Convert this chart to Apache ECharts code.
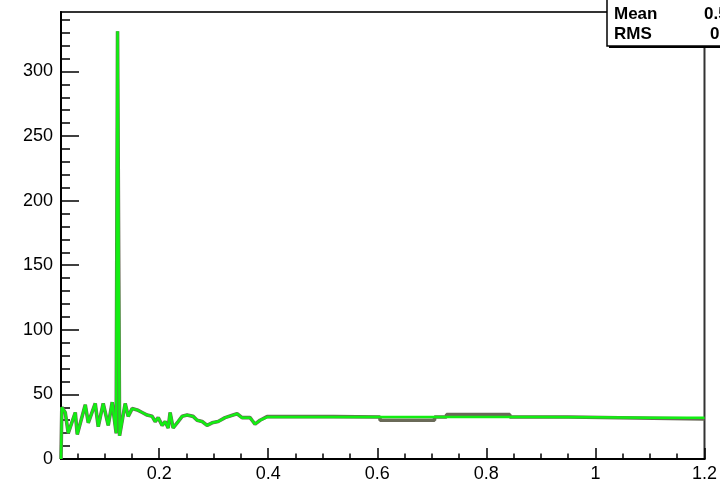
<!DOCTYPE html>
<html>
<head>
<meta charset="utf-8">
<script src="https://cdn.jsdelivr.net/npm/echarts@6/dist/echarts.min.js"></script>
<style>
html,body{margin:0;padding:0;background:#fff;}
#chart{width:720px;height:485px;}
</style>
</head>
<body>
<div id="chart"></div>
<script>
// ---- data ----
const xMin = 0.02, xMax = 1.2;
const yMin = 0, yMax = 346;
const xTickLabels = [0.2, 0.4, 0.6, 0.8, 1, 1.2];
const yTickLabels = [0, 50, 100, 150, 200, 250, 300];

// green histogram (x position, counts)
const greenX = [0.0200, 0.0215, 0.0278, 0.0333, 0.0462, 0.0498, 0.0645, 0.0700, 0.0828, 0.0883,
  0.0974, 0.1066, 0.1139, 0.1212, 0.1236, 0.1237, 0.1273, 0.1274, 0.1304, 0.1377,
  0.1432, 0.1505, 0.1597, 0.1689, 0.1780, 0.1872, 0.1927, 0.1982, 0.2055, 0.2110,
  0.2165, 0.2201, 0.2256, 0.2348, 0.2421, 0.2513, 0.2623, 0.2696, 0.2788, 0.2879,
  0.2971, 0.3081, 0.3209, 0.3355, 0.3429, 0.3520, 0.3667, 0.3703, 0.3758, 0.3850,
  0.3978, 0.50, 0.60, 0.70, 0.80, 0.90, 1.00, 1.10, 1.20];
const greenY = [0, 40, 36, 20, 36, 19, 42, 28, 43, 25,
  43, 26, 44, 20, 20, 331, 331, 18, 19, 43,
  33, 39, 38, 36, 34, 33, 29, 32, 26, 29,
  24, 36, 24, 29, 33, 34, 33, 30, 29, 26,
  28, 29, 32, 34, 35, 32, 32, 30, 27, 30,
  32.5, 32.5, 32.5, 32.5, 32.5, 32.5, 32.3, 32, 32];

// grey histogram, flat part (the noisy part follows the green one)
const greyFlatX = [0.3978, 0.52, 0.52, 0.605, 0.605, 0.705, 0.705, 0.727, 0.727, 0.843, 0.843, 0.95, 0.95, 1.2];
const greyFlatY = [32.8, 32.8, 32.5, 32.5, 30, 30, 32.5, 32.5, 34.5, 34.5, 32.5, 32.5, 31, 31];

const statNames = ['Mean', 'RMS'];
const statValues = ['0.5', '0'];

// ---- build ----
const greenData = greenX.map((x, i) => [x, greenY[i]]);
const greyData = greenX.map((x, i) => [x, greenY[i]]).filter(p => p[0] < 0.397)
  .concat(greyFlatX.map((x, i) => [x, greyFlatY[i]]));

const xMinor = [];
for (let i = 1; i <= 23; i++) { if (i % 4 !== 0) xMinor.push(+(i * 0.05).toFixed(2)); }
const yMinor = [];
for (let v = 10; v <= 340; v += 10) { if (v % 50 !== 0) yMinor.push(v); }

const labelFont = { fontFamily: 'Liberation Sans, Arial, sans-serif', fontSize: 18, color: '#000' };
const statFont = { fontFamily: 'Liberation Sans, Arial, sans-serif', fontSize: 17, fontWeight: 'bold', fill: '#000', verticalAlign: 'middle' };

const chart = echarts.init(document.getElementById('chart'), null, { renderer: 'canvas' });
chart.setOption({
  animation: false,
  backgroundColor: '#fff',
  grid: { left: 61, right: 15, top: 12, bottom: 26, show: true, borderColor: '#333', borderWidth: 2, backgroundColor: 'transparent' },
  xAxis: [
    {
      type: 'value', min: xMin, max: xMax, position: 'bottom',
      axisLine: { show: true, onZero: false, lineStyle: { color: '#000', width: 2 } },
      axisTick: { show: true, inside: true, length: 11, customValues: xTickLabels, lineStyle: { color: '#000', width: 1.5 } },
      axisLabel: Object.assign({ show: true, margin: 6, customValues: xTickLabels, formatter: v => String(+v.toFixed(2)) }, labelFont),
      splitLine: { show: false }
    },
    {
      type: 'value', min: xMin, max: xMax, position: 'bottom',
      axisLine: { show: false },
      axisTick: { show: true, inside: true, length: 5.5, customValues: xMinor, lineStyle: { color: '#000', width: 1.5 } },
      axisLabel: { show: false },
      splitLine: { show: false }
    }
  ],
  yAxis: [
    {
      type: 'value', min: yMin, max: yMax, position: 'left',
      axisLine: { show: true, onZero: false, lineStyle: { color: '#000', width: 2 } },
      axisTick: { show: true, inside: true, length: 18, customValues: yTickLabels, lineStyle: { color: '#000', width: 1.5 } },
      axisLabel: Object.assign({ show: true, margin: 8, customValues: yTickLabels }, labelFont),
      splitLine: { show: false }
    },
    {
      type: 'value', min: yMin, max: yMax, position: 'left',
      axisLine: { show: false },
      axisTick: { show: true, inside: true, length: 9, customValues: yMinor, lineStyle: { color: '#000', width: 1.5 } },
      axisLabel: { show: false },
      splitLine: { show: false }
    }
  ],
  series: [
    {
      type: 'line', data: greyData, xAxisIndex: 0, yAxisIndex: 0, showSymbol: false,
      lineStyle: { color: '#6a6a58', width: 3.6 }, z: 2
    },
    {
      type: 'line', data: greenData, xAxisIndex: 0, yAxisIndex: 0, showSymbol: false,
      lineStyle: { color: '#12ee12', width: 2.5 }, z: 3
    }
  ],
  graphic: [
    { type: 'rect', shape: { x: 609, y: -10, width: 130, height: 58 }, style: { fill: '#000' }, z: 10 },
    { type: 'rect', shape: { x: 607, y: -10, width: 130, height: 56 }, style: { fill: '#fff', stroke: '#000', lineWidth: 1.5 }, z: 11 },
    { type: 'text', x: 614, y: 14, style: Object.assign({ text: statNames[0] }, statFont), z: 12 },
    { type: 'text', x: 614, y: 34, style: Object.assign({ text: statNames[1] }, statFont), z: 12 },
    { type: 'text', x: 704, y: 14, style: Object.assign({ text: statValues[0] }, statFont), z: 12 },
    { type: 'text', x: 710, y: 34, style: Object.assign({ text: statValues[1] }, statFont), z: 12 }
  ]
});
</script>
</body>
</html>
